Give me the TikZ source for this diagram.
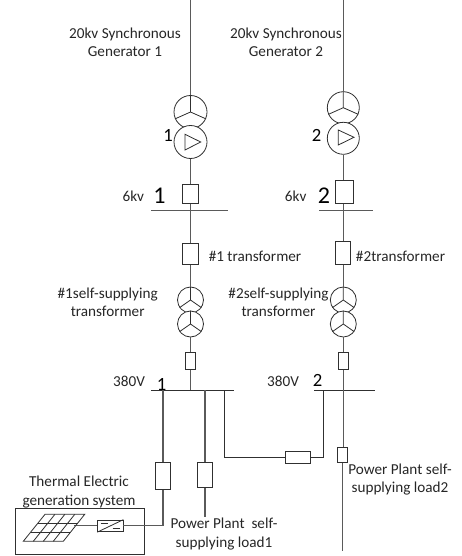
\documentclass[tikz,border=0pt]{standalone}
\usepackage{fontspec}
\setmainfont{Carlito}
\usetikzlibrary{calc}
\definecolor{wire}{HTML}{5a5a5a}
\definecolor{edge}{HTML}{303030}
\tikzset{
  wireline/.style={draw=wire,line width=0.8pt},
  darkline/.style={draw=edge,line width=0.65pt},
  thin edge/.style={draw=edge,line width=0.6pt},
  boxn/.style 2 args={rectangle,thin edge,fill=white,inner sep=0pt,minimum width=#1*0.75pt,minimum height=#2*0.75pt},
  ringn/.style={circle,thin edge,fill=white,inner sep=0pt,minimum size=#1*0.75pt},
  lab/.style={inner sep=0pt,align=center,text=black!85,font=\fontsize{11.4}{13.7}\selectfont},
  bignum/.style={inner sep=0pt,text=black,font=\fontsize{#1}{#1}\selectfont},
}
\begin{document}
\begin{tikzpicture}[x=0.75pt,y=-0.75pt]
\useasboundingbox (0,0) rectangle (461,556);
% left column
\coordinate (gl) at (190.5,0);
\node[ringn=33] (g1a) at (190.5,112) {};
\draw[thin edge] (g1a.center) -- (g1a.90) (g1a.center) -- (g1a.204) (g1a.center) -- (g1a.336);
\node[ringn=33] (g1b) at (190.5,142) {};
\node[boxn={15.4}{19.3}] (k1) at (190.5,193.6) {};
\coordinate (bus1a) at (151.3,210.7);
\coordinate (bus1b) at (228.3,210.7);
\node[boxn={15.4}{20.6}] (t1) at (190.5,254) {};
\node[ringn=26] (s1a) at (190.5,300) {};
\draw[thin edge] (s1a.center) -- (s1a.90) (s1a.center) -- (s1a.215) (s1a.center) -- (s1a.325);
\node[ringn=26] (s1b) at (190.5,324) {};
\draw[thin edge] (s1b.center) -- (s1b.90) (s1b.center) -- (s1b.215) (s1b.center) -- (s1b.325);
\node[boxn={10}{17}] (m1) at (190.5,360.8) {};
\coordinate (low1a) at (151.3,390.3);
\coordinate (low1b) at (234,390.3);
\coordinate (low1c) at (190.5,390.3);
\coordinate (dropa) at (163,390.3);
\coordinate (dropb) at (205,390.3);
\coordinate (dropc) at (224.3,390.3);
\node[boxn={15.4}{27}] (f1) at (163,476.2) {};
\node[boxn={15.4}{25}] (f2) at (205,475.2) {};
\coordinate (load1) at (205,516.7);
% right column
\coordinate (gr) at (343.3,0);
\node[ringn=32] (g2a) at (343.3,107.7) {};
\draw[thin edge] (g2a.center) -- (g2a.90) (g2a.center) -- (g2a.204) (g2a.center) -- (g2a.336);
\node[ringn=32] (g2b) at (343.3,138.3) {};
\node[boxn={18.3}{23}] (k2) at (344.2,191.8) {};
\coordinate (bus2a) at (319,210.7);
\coordinate (bus2b) at (373.3,210.7);
\coordinate (bus2c) at (343.3,210.7);
\node[boxn={15.7}{23}] (t2) at (342.9,252.8) {};
\node[ringn=26] (s2a) at (343.3,300) {};
\draw[thin edge] (s2a.center) -- (s2a.90) (s2a.center) -- (s2a.215) (s2a.center) -- (s2a.325);
\node[ringn=26] (s2b) at (343.3,324) {};
\draw[thin edge] (s2b.center) -- (s2b.90) (s2b.center) -- (s2b.215) (s2b.center) -- (s2b.325);
\node[boxn={9.7}{17}] (m2) at (343.2,360.7) {};
\coordinate (low2a) at (314.3,390.3);
\coordinate (low2b) at (375,390.3);
\coordinate (low2c) at (343.3,390.3);
\coordinate (dropd) at (323.7,390.3);
\node[boxn={10}{15}] (f3) at (342.3,455.2) {};
\coordinate (load2) at (342.3,550.7);
\node[boxn={25}{11.3}] (tie) at (298.2,457.4) {};
% thermal system
\node[boxn={129.3}{46}] (sys) at (79.7,531.3) {};
\node[boxn={25.3}{11.7}] (inv) at (110.3,525.9) {};
\coordinate (pv) at (74,525.9);
% wires
\draw[wireline] (gl) -- (g1a.north);
\draw[wireline] (g1b.south) -- (k1.north);
\draw[wireline] (k1.south) -- (t1.north);
\draw[wireline] (t1.south) -- (s1a.north);
\draw[wireline] (s1b.south) -- (m1.north);
\draw[wireline] (m1.south) -- (low1c);
\draw[wireline] (bus1a) -- (bus1b);
\draw[darkline] (low1a) -- (low1b);
\draw[wireline] (dropa) -- (f1.north);
\draw[wireline] (dropb) -- (f2.north);
\draw[wireline] (f2.south) -- (load1);
\draw[wireline] (f1.south) |- (inv.east);
\draw[darkline] (dropc) |- (tie.west);
\draw[wireline] (gr) -- (g2a.north);
\draw[wireline] (g2b.south) -- (k2.north-|g2b.south);
\draw[wireline] (bus2c|-k2.south) -- (t2.north-|bus2c);
\draw[wireline] (bus2c|-t2.south) -- (s2a.north);
\draw[wireline] (s2b.south) -- (m2.north-|s2b.south);
\draw[wireline] (bus2c|-m2.south) -- (low2c);
\draw[wireline] (bus2a) -- (bus2b);
\draw[darkline] (low2a) -- (low2b);
\draw[wireline] (low2c) -- (f3.north-|low2c);
\draw[wireline] (f3.south) -- (load2);
\draw[darkline] (dropd) |- (tie.east);
\draw[wireline] (pv) -- (inv.west);
% triangles
\draw[thin edge] (185,134.3) -- (185,150) -- (200.7,142) -- cycle;
\draw[thin edge] (338.3,130) -- (338.3,145) -- (354,137.3) -- cycle;
% panel
\draw[thin edge] (23.3,541.3) -- (63.3,541.3) -- (84.7,514.3) -- (45,514.3) -- cycle;
\foreach \f in {0.333,0.667}{
  \draw[thin edge] ($(23.3,541.3)!\f!(45,514.3)$) -- ($(63.3,541.3)!\f!(84.7,514.3)$);
}
\foreach \f in {0.25,0.5,0.75}{
  \draw[thin edge] ($(23.3,541.3)!\f!(63.3,541.3)$) -- ($(45,514.3)!\f!(84.7,514.3)$);
}
% inverter symbol
\draw[thin edge] (inv.south west) -- (inv.north east);
\draw[thin edge] (100.5,523.5) -- (108,523.5);
\draw[thin edge] (112.5,528.3) -- (120,528.3);
% labels
\node[lab] (tg1) at (125,42.2) {20kv Synchronous\\Generator 1};
\node[lab] (tg2) at (286,42.2) {20kv Synchronous\\Generator 2};
\node[bignum=14] (n1) at (168,135) {1};
\node[bignum=14] (n2) at (316.7,135) {2};
\node[lab] (v1) at (133.3,196) {6kv};
\node[lab] (v2) at (295.7,196) {6kv};
\node[bignum=18] (b1) at (159.5,196) {1};
\node[bignum=18] (b2) at (324,196) {2};
\node[lab] (tr1) at (255,256) {\#1 transformer};
\node[lab] (tr2) at (400.5,256) {\#2transformer};
\node[lab] (ss1) at (107.7,302) {\#1self-supplying\\transformer};
\node[lab] (ss2) at (278.5,302) {\#2self-supplying\\transformer};
\node[lab] (lv1) at (129,381) {380V};
\node[lab] (lv2) at (283,381) {380V};
\node[bignum=14] (bn1) at (161.5,384) {1};
\node[bignum=14] (bn2) at (317.7,380) {2};
\node[lab] (th) at (79,492) {Thermal Electric\\generation system};
\node[lab] (pl1) at (224,534) {Power Plant\ \ self-\\supplying load1};
\node[lab] (pl2) at (400,479.7) {Power Plant self-\\supplying load2};
\end{tikzpicture}
\end{document}
